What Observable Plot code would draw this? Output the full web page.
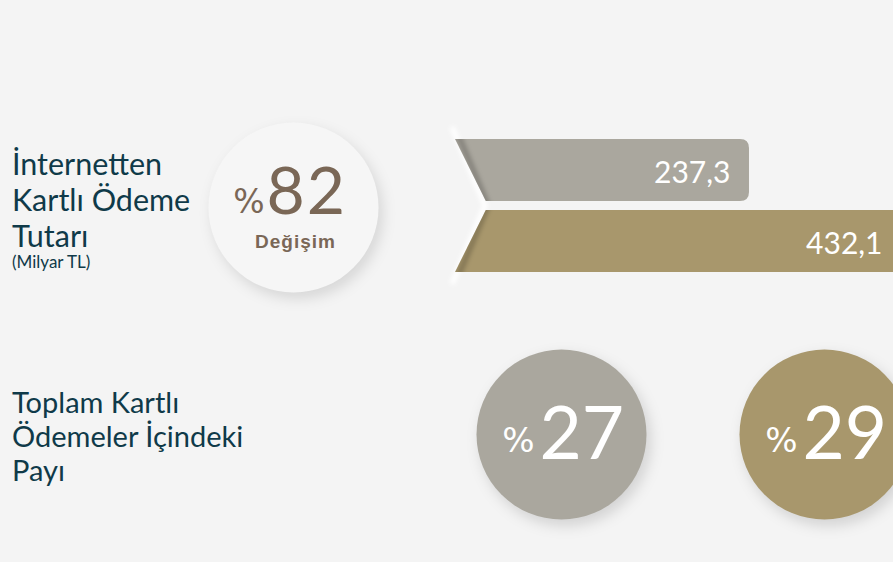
<!DOCTYPE html>
<html><head><meta charset="utf-8">
<script src="https://cdn.jsdelivr.net/npm/d3@7"></script>
<script src="https://cdn.jsdelivr.net/npm/@observablehq/plot@0.6"></script>
<style>
html,body{margin:0;padding:0;background:#f4f4f4;}
#wrap{position:relative;width:893px;height:562px;overflow:hidden;background:#f4f4f4;font-family:Lato,sans-serif;}
.lbl{position:absolute;left:12px;color:#0f3a49;white-space:nowrap;}
.abs{position:absolute;}
.abs svg{overflow:visible;background:transparent;}
#change circle{filter:drop-shadow(4px 6px 7px rgba(0,0,0,0.12));}
#share circle{filter:drop-shadow(4px 6px 7px rgba(0,0,0,0.14));}
</style></head><body>
<div id="wrap">
  <div class="lbl" id="t1" style="top:145px;font-size:30.5px;line-height:36px"></div>
  <div class="lbl" id="u1" style="top:254px;font-size:17px;line-height:15px"></div>
  <div class="lbl" id="t2" style="top:385px;font-size:29px;line-height:34px"></div>
  <div class="abs" id="bars" style="left:0;top:0"></div>
  <div class="abs" id="change" style="left:193px;top:107px"></div>
  <div class="abs" id="share" style="left:0;top:339px"></div>
</div>
<script>
// ---- data ----
const periods = ["Dönem 1", "Dönem 2"];
const amounts = [237.3, 432.1];          // Milyar TL
const shares = [27, 29];                 // % share in total card payments
const changePct = 82;                    // % change
const changeLabel = "Değişim";
const colors = ["#aaa79e", "#a8976c"];
const title1 = ["İnternetten", "Kartlı Ödeme", "Tutarı"];
const unit1 = "(Milyar TL)";
const title2 = ["Toplam Kartlı", "Ödemeler İçindeki", "Payı"];

// ---- labels ----
document.getElementById("t1").innerHTML = title1.join("<br>");
document.getElementById("u1").textContent = unit1;
document.getElementById("t2").innerHTML = title2.join("<br>");

const barData = periods.map((p, i) => ({period: p, value: amounts[i]}));
const shareData = periods.map((p, i) => ({period: p, share: shares[i]}));
const fmt = v => v.toFixed(1).replace(".", ",");

function chevronBars(index, scales) {
  const x = scales.x, y = scales.y;
  const ys = periods.map(p => y(p));
  let bw = typeof y.bandwidth === "function" ? y.bandwidth()
    : (scales.scales && scales.scales.y && scales.scales.y.bandwidth) || 62;
  const top = ys[0], bottom = ys[ys.length - 1] + bw, mid = (top + bottom) / 2, half = (bottom - top) / 2;
  const x0 = x(0), depth = 33, r = 9;
  const lx = yy => x0 + depth * (1 - Math.abs(yy - mid) / half);
  const g = d3.create("svg:g");
  const defs = g.append("defs");
  defs.append("filter").attr("id", "blur3").attr("x", "-50%").attr("y", "-50%")
    .attr("width", "200%").attr("height", "200%")
    .append("feGaussianBlur").attr("stdDeviation", 2.2);
  g.append("path")
    .attr("d", `M${x0 - 3},${top - 12}L${x0 + depth - 3},${mid}L${x0 - 3},${bottom + 12}`)
    .attr("fill", "none").attr("stroke", "white").attr("stroke-width", 5).attr("filter", "url(#blur3)");
  const cp = defs.append("clipPath").attr("id", "barclip");
  barData.forEach((d, i) => {
    const yt = ys[i], yb = yt + bw, xr = x(d.value);
    const path = `M${lx(yt)},${yt}L${xr - r},${yt}Q${xr},${yt} ${xr},${yt + r}L${xr},${yb - r}Q${xr},${yb} ${xr - r},${yb}L${lx(yb)},${yb}Z`;
    g.append("path").attr("d", path).attr("fill", colors[i]);
    cp.append("path").attr("d", path);
  });
  g.append("path")
    .attr("d", `M${x0},${top - 12}L${x0 + depth},${mid}L${x0},${bottom + 12}`)
    .attr("fill", "none").attr("stroke", "rgba(0,0,0,0.2)").attr("stroke-width", 6)
    .attr("filter", "url(#blur3)").attr("clip-path", "url(#barclip)");
  return g.node();
}

const barsPlot = Plot.plot({
  width: 893, height: 300, margin: 0,
  style: {background: "transparent", overflow: "visible", fontFamily: "Lato"},
  x: {domain: [0, 360], range: [455, 901], clamp: true, axis: null},
  y: {type: "band", domain: periods, range: [139, 273], paddingInner: 0.12, paddingOuter: 0, axis: null},
  marks: [
    chevronBars,
    Plot.text(barData, {x: "value", y: "period", text: d => fmt(d.value), textAnchor: "end",
      dx: -19, dy: 3, fill: "white", fontSize: 30, fontFamily: "Lato"})
  ]
});
document.getElementById("bars").append(barsPlot);

const changePlot = Plot.plot({
  width: 200, height: 200, margin: 0,
  style: {background: "transparent", overflow: "visible", fontFamily: "Lato"},
  marks: [
    Plot.dot([changePct], {frameAnchor: "middle", r: 85, fill: "#f6f6f6"}),
    Plot.text([changePct], {frameAnchor: "middle", text: d => String(d), textAnchor: "start", lineAnchor: "bottom",
      dx: -27, dy: 6, fontSize: 66, fill: "#7a6756", fontFamily: "Lato"}),
    Plot.text([changePct], {frameAnchor: "middle", text: () => "%", textAnchor: "end", lineAnchor: "bottom",
      dx: -29, dy: 5, fontSize: 33, fill: "#7a6756", fontFamily: "DejaVu Sans"}),
    Plot.text([changeLabel], {frameAnchor: "middle", text: d => d, lineAnchor: "bottom",
      dx: 2, dy: 40, fontSize: 19, fontWeight: "bold", fill: "#7a6756", fontFamily: "Liberation Sans"})
  ]
});
document.getElementById("change").append(changePlot);

const sharePlot = Plot.plot({
  width: 893, height: 190, margin: 0,
  style: {background: "transparent", overflow: "visible", fontFamily: "Lato"},
  x: {type: "point", domain: periods, range: [561, 824], padding: 0, axis: null},
  color: {domain: periods, range: colors},
  marks: [
    Plot.dot(shareData, {x: "period", r: 85, fill: "period"}),
    Plot.text(shareData, {x: "period", text: d => String(d.share), textAnchor: "start", lineAnchor: "bottom",
      dx: -22, dy: 24, fontSize: 73, fill: "white", fontFamily: "Lato"}),
    Plot.text(shareData, {x: "period", text: () => "%", textAnchor: "end", lineAnchor: "bottom",
      dx: -27, dy: 17, fontSize: 34, fill: "white", fontFamily: "DejaVu Sans"})
  ]
});
document.getElementById("share").append(sharePlot);

// letter spacing tweaks
d3.select(changePlot).selectAll("text").each(function() {
  const t = this.textContent;
  if (t === String(changePct)) d3.select(this).attr("letter-spacing", 2);
  if (t === changeLabel) d3.select(this).attr("letter-spacing", 1);
});
</script>
</body></html>
